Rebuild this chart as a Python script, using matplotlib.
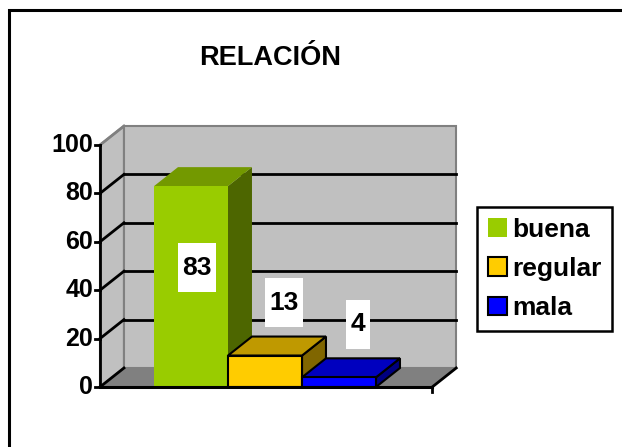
#Recreate the "RELACION" excel-style 3D bar chart with plain matplotlib
import numpy as np
from matplotlib import pyplot as plt
from matplotlib.patches import Rectangle, Polygon, Patch

plt.rcParams['font.family'] = ['Liberation Sans', 'DejaVu Sans']
plt.rcParams['font.weight'] = 'bold'

# data
categories = ['buena', 'regular', 'mala']
values = [83, 13, 4]
labels = ['83', '13', '4']
y_ticks = [0, 20, 40, 60, 80, 100]
title = 'RELACIÓN'

front_colors = ['#99cc00', '#ffcc00', '#0000ff']
top_colors = ['#739900', '#bf9900', '#0000bf']
side_colors = ['#4d6600', '#806600', '#000080']
edge_colors = ['none', 'black', 'black']

# depth of the fake 3d box (x in category units, y in value units)
dx, dy = 0.324, 7.85
x_left, x_right = -0.73, 3.76
ymax = 100

W, H = 622, 447
fig = plt.figure(figsize=(W / 100, H / 100), dpi=100)
ax = fig.add_axes([0, 0, 1, 1])
ax.set_xlim(-154 / 74, (W - 154) / 74)
ax.set_ylim(-(H - 387) / 2.42, 387 / 2.42)
ax.axis('off')

wall = '#c0c0c0'
floor = '#808080'

# left wall, back wall, floor
ax.add_patch(Polygon([(x_left, 0), (x_left, ymax), (x_left + dx, ymax + dy), (x_left + dx, dy)],
                     closed=True, fc=wall, ec=floor, lw=1.5, zorder=1))
ax.add_patch(Rectangle((x_left + dx, dy), x_right - x_left, ymax, fc=wall, ec=floor, lw=1.5, zorder=1))
ax.add_patch(Polygon([(x_left, 0), (x_right, 0), (x_right + dx, dy), (x_left + dx, dy)],
                     closed=True, fc=floor, ec='none', zorder=1))

# gridlines on walls
for v in y_ticks[1:-1]:
    ax.plot([x_left + dx, x_right + dx], [v + dy, v + dy], color='black', lw=2, zorder=2)
for v in y_ticks:
    col = floor if v == ymax else 'black'
    ax.plot([x_left, x_left + dx], [v, v + dy], color=col, lw=2, zorder=2)
    ax.plot([x_left - 0.07, x_left], [v, v], color='black', lw=2, zorder=5)
    ax.text(x_left - 0.095, v, str(v), ha='right', va='center', fontsize=18, zorder=5)

# axes lines
ax.plot([x_left, x_left], [0, ymax], color='black', lw=2, zorder=5)
ax.plot([x_left, x_right], [0, 0], color='black', lw=2.2, zorder=5)
ax.plot([x_right, x_right + dx], [0, dy], color='black', lw=2, zorder=5)
ax.plot([x_right, x_right], [0, -2.2], color='black', lw=2, zorder=5)

# bars
for i, v in enumerate(values):
    ec = edge_colors[i]
    ax.add_patch(Polygon([(i + 1, 0), (i + 1, v), (i + 1 + dx, v + dy), (i + 1 + dx, dy)],
                         closed=True, fc=side_colors[i], ec=ec, lw=1.5, zorder=3 + i * 0.1))
    ax.add_patch(Polygon([(i, v), (i + 1, v), (i + 1 + dx, v + dy), (i + dx, v + dy)],
                         closed=True, fc=top_colors[i], ec=ec, lw=1.5, zorder=3 + i * 0.1))
    ax.add_patch(Rectangle((i, 0), 1, v, fc=front_colors[i], ec=ec, lw=1.5, zorder=3 + i * 0.1 + 0.05))

# value labels in white boxes
for i, v in enumerate(values):
    if v > 50:
        lx, ly = i + 0.58, v / 2 + dy
    else:
        lx, ly = i + 0.76, v + dy + 14
    bw = (len(labels[i]) * 14.5 + 9) / 74
    bh = 49 / 2.42
    ax.add_patch(Rectangle((lx - bw / 2, ly - bh / 2), bw, bh, fc='white', ec='none', zorder=6))
    ax.text(lx, ly, labels[i], ha='center', va='center', fontsize=19, zorder=7)

fig.text(270 / W, 1 - 58 / H, title, ha='center', va='center', fontsize=19.5)

handles = [Patch(fc=front_colors[i], ec=edge_colors[i], lw=1.5) for i in range(len(categories))]
leg = fig.legend(handles, categories, loc='upper left', bbox_to_anchor=(477 / W, 1 - 207 / H),
                 borderaxespad=0, fontsize=19, handlelength=0.72, handleheight=0.72,
                 handletextpad=0.22, labelspacing=0.58, borderpad=0.4, fancybox=False,
                 framealpha=1, edgecolor='black')
leg.get_frame().set_linewidth(1.8)

# outer chart border (right and bottom cut off)
fig.add_artist(Rectangle((9 / W, -0.1), 2, 1 - 10 / H + 0.1, transform=fig.transFigure,
                         fill=False, ec='black', lw=2.2))

fig.savefig('out.png', dpi=100)
